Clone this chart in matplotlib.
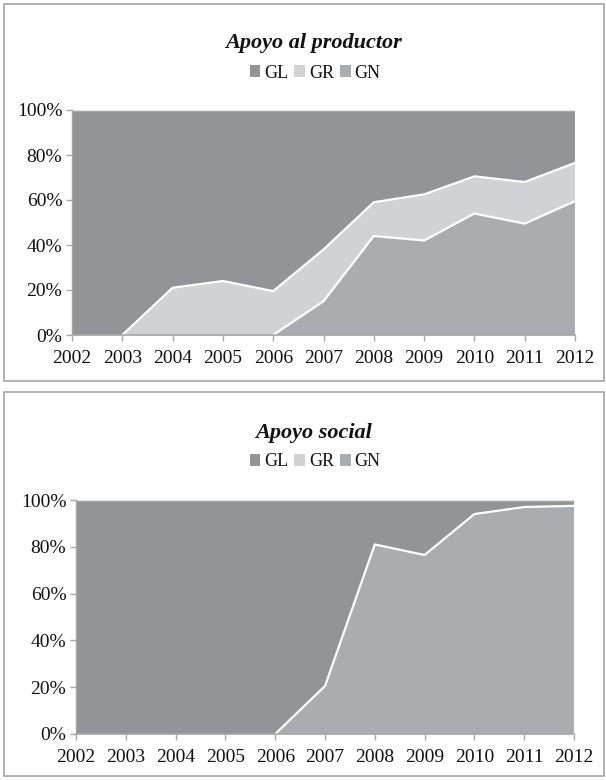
import matplotlib
matplotlib.use("Agg")
import matplotlib.pyplot as plt
from matplotlib.patches import Rectangle, Patch
import numpy as np

years = [2002, 2003, 2004, 2005, 2006, 2007, 2008, 2009, 2010, 2011, 2012]
series_names = ["GL", "GR", "GN"]

# Apoyo al productor (percent shares)
prod_gn = [0, 0, 0, 0, 0, 15, 44, 42, 54, 49.5, 59.5]
prod_gr = [0, 0, 21, 24, 19.5, 23, 15, 20.5, 16.5, 18.5, 17]
prod_gl = [100 - a - b for a, b in zip(prod_gn, prod_gr)]

# Apoyo social (percent shares)
soc_gn = [0, 0, 0, 0, 0, 20.5, 81, 76.5, 94, 97, 97.5]
soc_gr = [0, 0, 0, 0, 0, 0, 0, 0, 0, 0, 0]
soc_gl = [100 - a - b for a, b in zip(soc_gn, soc_gr)]

titles = ["Apoyo al productor", "Apoyo social"]
ytick_vals = [0, 20, 40, 60, 80, 100]
ytick_labels = ["0%", "20%", "40%", "60%", "80%", "100%"]

colors = {"GL": "#939497", "GR": "#D1D2D4", "GN": "#ABACAF"}
border_col = "#A6A6A6"

plt.rcParams['font.family'] = ['Liberation Serif', 'DejaVu Serif']

W, H = 606, 780
fig = plt.figure(figsize=(W / 100, H / 100), dpi=100)

def fx(px):
    return px / W

def fy(py):
    return 1 - py / H

def mask_flat_zero(vals):
    v = np.array(vals, dtype=float)
    out = v.copy()
    n = len(v)
    for i in range(n):
        if v[i] == 0:
            prev0 = (i == 0) or v[i - 1] == 0
            next0 = (i == n - 1) or v[i + 1] == 0
            if prev0 and next0:
                out[i] = np.nan
    return out

panels = [
    dict(box=(4, 4, 604, 381), ax=(72, 110, 575, 335), title_y=43, leg_y=73,
         data=(prod_gn, prod_gr, prod_gl), title=titles[0]),
    dict(box=(4, 392, 604, 776), ax=(76, 500, 574, 734), title_y=433, leg_y=462,
         data=(soc_gn, soc_gr, soc_gl), title=titles[1]),
]

for p in panels:
    x0, y0, x1, y1 = p["box"]
    fig.patches.append(Rectangle((fx(x0), fy(y1)), fx(x1) - fx(x0), fy(y0) - fy(y1),
                                 transform=fig.transFigure, fill=False,
                                 edgecolor=border_col, linewidth=1.2))
    ax0, ay0, ax1, ay1 = p["ax"]
    ax = fig.add_axes([fx(ax0), fy(ay1), fx(ax1) - fx(ax0), fy(ay0) - fy(ay1)])
    gn, gr, gl = p["data"]
    ax.stackplot(years, gn, gr, gl,
                 colors=[colors["GN"], colors["GR"], colors["GL"]],
                 edgecolor="none", linewidth=0)
    cum1 = np.array(gn, dtype=float)
    cum2 = cum1 + np.array(gr, dtype=float)
    if np.any(np.array(gr) != 0):
        ax.plot(years, mask_flat_zero(cum2), color="white", lw=1.6, zorder=2)
    ax.plot(years, mask_flat_zero(cum1), color="white", lw=1.6, zorder=2)
    ax.plot(years, [100] * len(years), color="#E6E6E6", lw=1.0, zorder=2)
    ax.set_xlim(years[0], years[-1])
    ax.set_ylim(0, 100)
    ax.set_xticks(years)
    ax.set_xticklabels([str(y) for y in years])
    ax.set_yticks(ytick_vals)
    ax.set_yticklabels(ytick_labels)
    for s in ["top", "right"]:
        ax.spines[s].set_visible(False)
    ax.spines["left"].set_color(border_col)
    ax.spines["bottom"].set_color(border_col)
    ax.spines["left"].set_linewidth(1.0)
    ax.spines["bottom"].set_linewidth(1.2)
    ax.tick_params(axis="x", length=4, width=1, color=border_col, pad=7,
                   labelsize=14, labelcolor="#111111")
    ax.tick_params(axis="y", length=4, width=1, color=border_col, pad=3,
                   labelsize=14, labelcolor="#111111")
    fig.text(0.518, fy(p["title_y"]), p["title"], ha="center", va="center",
             fontsize=16, fontweight="bold", fontstyle="italic", color="#111111")
    handles = [Patch(facecolor=colors[n], edgecolor="none", label=n) for n in series_names]
    fig.legend(handles=handles, loc="center", bbox_to_anchor=(0.52, fy(p["leg_y"])),
               ncol=3, frameon=False, fontsize=13, handlelength=0.6,
               handleheight=0.6, handletextpad=0.2, columnspacing=0.35,
               borderpad=0, labelcolor="#111111")

fig.savefig("out.png", dpi=100)
